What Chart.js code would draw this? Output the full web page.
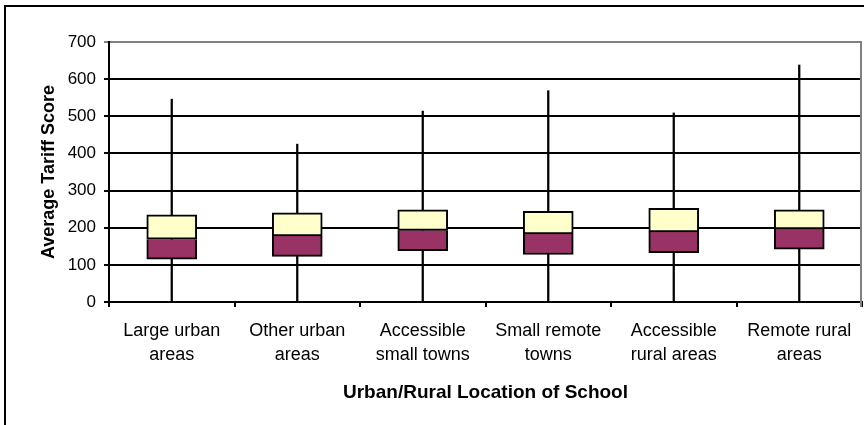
<!DOCTYPE html>
<html>
<head>
<meta charset="utf-8">
<script src="https://cdn.jsdelivr.net/npm/chart.js@4"></script>
<style>
  html, body { margin: 0; padding: 0; background: #fff; }
  #wrap { position: relative; width: 864px; height: 425px; overflow: hidden; }
  #frame { position: absolute; left: 4px; top: 5px; width: 870px; height: 430px;
           border-left: 2px solid #000; border-top: 2px solid #000; }
  #c { position: absolute; left: 0; top: 0; }
</style>
</head>
<body>
<div id="wrap">
  <div id="frame"></div>
  <canvas id="c" width="864" height="425"></canvas>
</div>
<script>
// ── Data ────────────────────────────────────────────────────
const categories = [
  ['Large urban', 'areas'],
  ['Other urban', 'areas'],
  ['Accessible', 'small towns'],
  ['Small remote', 'towns'],
  ['Accessible', 'rural areas'],
  ['Remote rural', 'areas']
];
const minVals = [0, 0, 0, 0, 0, 0];
const q1Vals  = [115, 123, 138, 128, 133, 142];
const medVals = [169, 178, 193, 183, 189, 197];
const q3Vals  = [235, 240, 248, 244, 252, 248];
const maxVals = [546, 425, 514, 569, 509, 638];
const yTicks  = [0, 100, 200, 300, 400, 500, 600, 700];

const FONT = "'Liberation Sans', Arial, sans-serif";

// floating bars [from, to]
const span = (a, b) => a.map((v, i) => [v, b[i]]);

// ── Plot frame (grey right edge like the original) ──────────
const framePlugin = {
  id: 'frame',
  afterDraw(chart) {
    const { ctx, chartArea: a } = chart;
    ctx.save();
    ctx.strokeStyle = '#808080';
    ctx.lineWidth = 2;
    ctx.beginPath();
    ctx.moveTo(a.right - 1, a.top);
    ctx.lineTo(a.right - 1, a.bottom + 5);
    ctx.stroke();
    ctx.restore();
  }
};

new Chart(document.getElementById('c'), {
  type: 'bar',
  data: {
    labels: categories,
    datasets: [
      {
        label: 'Median to Q3',
        data: span(medVals, q3Vals),
        backgroundColor: '#FFFFCC',
        borderColor: '#000',
        borderWidth: 2,
        borderSkipped: false,
        barThickness: 50,
        order: 0
      },
      {
        label: 'Q1 to Median',
        data: span(q1Vals, medVals),
        backgroundColor: '#993366',
        borderColor: '#000',
        borderWidth: 2,
        borderSkipped: 'top',
        barThickness: 50,
        order: 1
      },
      {
        label: 'Range',
        data: span(minVals, maxVals),
        backgroundColor: '#000',
        borderWidth: 0,
        barThickness: 1.6,
        order: 2
      }
    ]
  },
  options: {
    responsive: false,
    animation: false,
    layout: { padding: { top: 42, right: 2, left: 0, bottom: 0 } },
    plugins: { legend: { display: false }, tooltip: { enabled: false } },
    scales: {
      x: {
        stacked: true,
        afterFit: s => { s.height = 123; },
        grid: { drawOnChartArea: false, drawTicks: true, tickLength: 5, color: '#000', lineWidth: 2 },
        border: { color: '#000', width: 2 },
        ticks: { color: '#000', padding: 12, maxRotation: 0, autoSkip: false,
                 font: { family: FONT, size: 18, lineHeight: 1.35 } },
        title: { display: true, text: 'Urban/Rural Location of School', color: '#000',
                 padding: { top: 0, bottom: 21 },
                 font: { family: FONT, size: 19, weight: 'bold' } }
      },
      y: {
        min: 0,
        max: 700,
        afterFit: s => { s.width = 109; },
        afterBuildTicks: s => { s.ticks = yTicks.map(v => ({ value: v })); },
        grid: { tickLength: 5, lineWidth: 2,
                color: c => (c.tick && c.tick.value === 700) ? '#808080' : '#000' },
        border: { color: '#000', width: 2 },
        ticks: { color: '#000', padding: 8, font: { family: FONT, size: 17 } },
        title: { display: true, text: 'Average Tariff Score', color: '#000',
                 padding: { top: 38, bottom: 0 },
                 font: { family: FONT, size: 18, weight: 'bold' } }
      }
    }
  },
  plugins: [framePlugin]
});
</script>
</body>
</html>
